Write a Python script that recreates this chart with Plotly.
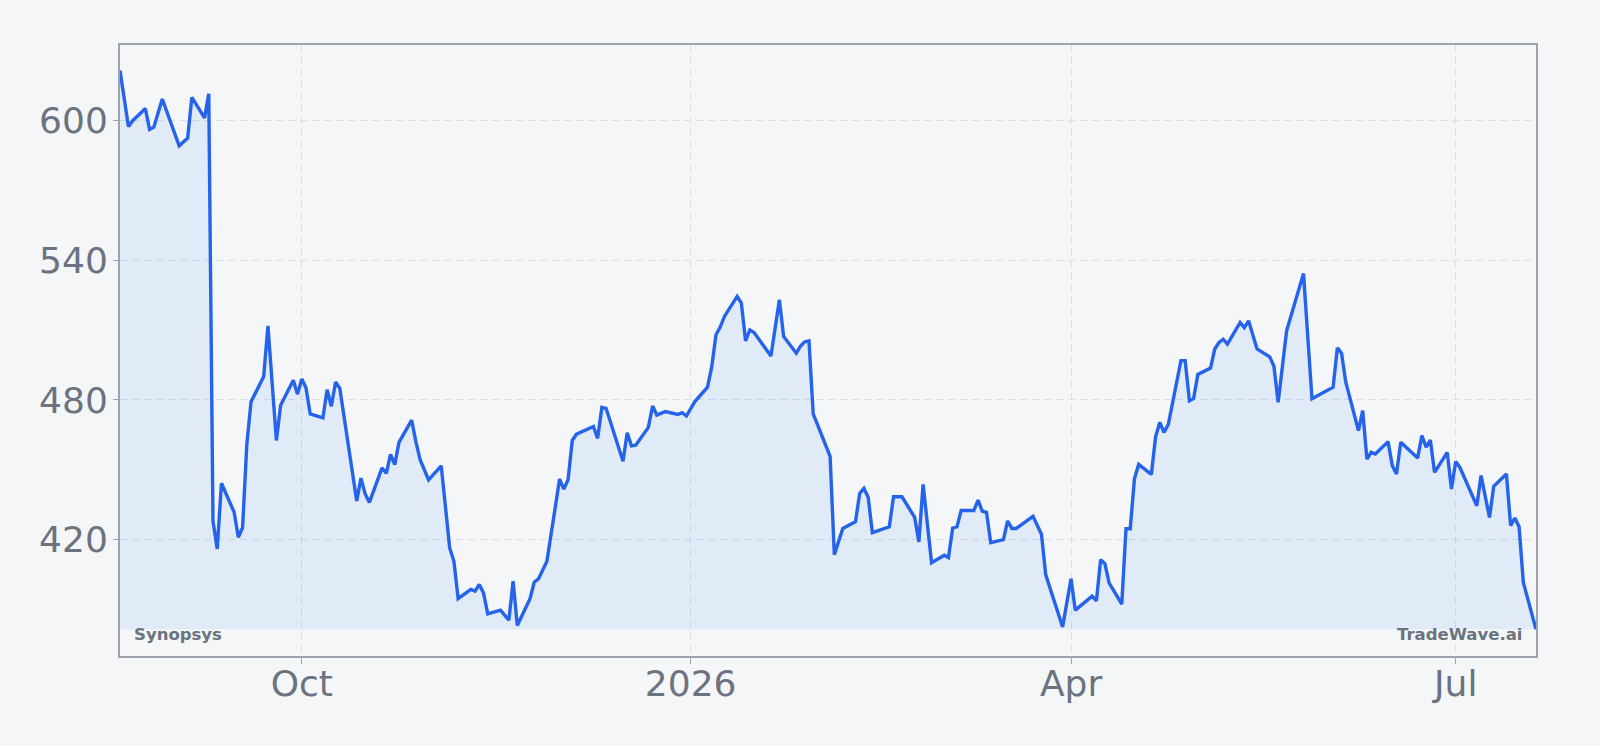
import plotly.graph_objects as go

dates = [
    "2025-08-19", "2025-08-21", "2025-08-22", "2025-08-25", "2025-08-26", "2025-08-27", "2025-08-29",
    "2025-09-02", "2025-09-04", "2025-09-05", "2025-09-08", "2025-09-09", "2025-09-10", "2025-09-11",
    "2025-09-12", "2025-09-15", "2025-09-16", "2025-09-17", "2025-09-18", "2025-09-19", "2025-09-22",
    "2025-09-23", "2025-09-25", "2025-09-26", "2025-09-29", "2025-09-30", "2025-10-01", "2025-10-02",
    "2025-10-03", "2025-10-06", "2025-10-07", "2025-10-08", "2025-10-09", "2025-10-10", "2025-10-14",
    "2025-10-15", "2025-10-16", "2025-10-17", "2025-10-20", "2025-10-21", "2025-10-22", "2025-10-23",
    "2025-10-24", "2025-10-27", "2025-10-28", "2025-10-29", "2025-10-31", "2025-11-03", "2025-11-05",
    "2025-11-06", "2025-11-07", "2025-11-10", "2025-11-11", "2025-11-12", "2025-11-13", "2025-11-14",
    "2025-11-17", "2025-11-19", "2025-11-20", "2025-11-21", "2025-11-24", "2025-11-25", "2025-11-26",
    "2025-11-28", "2025-12-01", "2025-12-02", "2025-12-03", "2025-12-04", "2025-12-05", "2025-12-09",
    "2025-12-10", "2025-12-11", "2025-12-12", "2025-12-16", "2025-12-17", "2025-12-18", "2025-12-19",
    "2025-12-22", "2025-12-23", "2025-12-24", "2025-12-26", "2025-12-29", "2025-12-30", "2025-12-31",
    "2026-01-02", "2026-01-05", "2026-01-06", "2026-01-07", "2026-01-08", "2026-01-09", "2026-01-12",
    "2026-01-13", "2026-01-14", "2026-01-15", "2026-01-16", "2026-01-20", "2026-01-22", "2026-01-23",
    "2026-01-26", "2026-01-27", "2026-01-28", "2026-01-29", "2026-01-30", "2026-02-03", "2026-02-04",
    "2026-02-06", "2026-02-09", "2026-02-10", "2026-02-11", "2026-02-12", "2026-02-13", "2026-02-17",
    "2026-02-18", "2026-02-20", "2026-02-23", "2026-02-24", "2026-02-25", "2026-02-27", "2026-03-02",
    "2026-03-03", "2026-03-04", "2026-03-05", "2026-03-06", "2026-03-09", "2026-03-10", "2026-03-11",
    "2026-03-12", "2026-03-13", "2026-03-16", "2026-03-17", "2026-03-18", "2026-03-19", "2026-03-23",
    "2026-03-25", "2026-03-26", "2026-03-30", "2026-04-01", "2026-04-02", "2026-04-06", "2026-04-07",
    "2026-04-08", "2026-04-09", "2026-04-10", "2026-04-13", "2026-04-14", "2026-04-15", "2026-04-16",
    "2026-04-17", "2026-04-20", "2026-04-21", "2026-04-22", "2026-04-23", "2026-04-24", "2026-04-27",
    "2026-04-28", "2026-04-29", "2026-04-30", "2026-05-01", "2026-05-04", "2026-05-05", "2026-05-06",
    "2026-05-07", "2026-05-08", "2026-05-11", "2026-05-12", "2026-05-13", "2026-05-15", "2026-05-18",
    "2026-05-19", "2026-05-20", "2026-05-22", "2026-05-26", "2026-05-28", "2026-06-02", "2026-06-03",
    "2026-06-04", "2026-06-05", "2026-06-08", "2026-06-09", "2026-06-10", "2026-06-11", "2026-06-12",
    "2026-06-15", "2026-06-16", "2026-06-17", "2026-06-18", "2026-06-22", "2026-06-23", "2026-06-24",
    "2026-06-25", "2026-06-26", "2026-06-29", "2026-06-30", "2026-07-01", "2026-07-02", "2026-07-06",
    "2026-07-07", "2026-07-09", "2026-07-10", "2026-07-13", "2026-07-14", "2026-07-15", "2026-07-16",
    "2026-07-17", "2026-07-20",
]

prices = [
    621.5, 597.5, 600.0, 605.2, 596.2, 597.2, 609.3,
    589.2, 592.5, 610.0, 601.2, 611.5, 428.0, 416.0,
    444.2, 431.8, 421.0, 425.2, 460.8, 479.2, 490.1,
    511.8, 462.6, 477.7, 488.5, 482.5, 489.0, 485.2,
    474.0, 472.3, 484.4, 477.3, 487.7, 485.0, 436.6,
    446.4, 439.6, 436.0, 450.8, 448.5, 456.6, 452.2,
    461.8, 471.3, 462.1, 454.3, 445.7, 451.7, 416.4,
    410.7, 394.6, 398.6, 397.9, 400.7, 397.1, 388.1,
    389.7, 385.4, 402.1, 383.1, 394.6, 401.7, 403.1,
    410.7, 446.0, 441.7, 445.7, 462.6, 465.3, 468.6,
    463.5, 476.8, 476.4, 453.7, 465.9, 460.3, 460.6,
    468.2, 477.4, 473.5, 475.0, 473.8, 474.5, 473.1,
    479.3, 485.5, 494.3, 508.0, 511.3, 515.9, 524.5,
    521.6, 505.4, 510.1, 509.0, 498.9, 523.0, 507.3,
    500.1, 503.2, 505.0, 505.4, 474.0, 455.8, 413.5,
    424.8, 427.7, 439.8, 442.0, 438.2, 423.0, 425.5,
    438.4, 438.4, 429.6, 419.0, 443.7, 410.1, 413.3,
    412.3, 425.0, 425.5, 432.5, 432.5, 437.0, 432.2,
    431.7, 418.7, 420.0, 428.0, 424.8, 424.8, 430.0,
    422.3, 405.0, 382.5, 403.2, 389.7, 395.7, 393.7,
    411.4, 409.7, 401.4, 392.3, 424.7, 424.7, 446.1,
    452.3, 448.0, 464.2, 470.4, 466.1, 469.4, 496.9,
    496.9, 479.7, 480.7, 491.0, 493.7, 501.9, 504.7,
    506.1, 504.0, 513.3, 511.1, 514.0, 501.9, 498.5,
    494.5, 479.0, 509.7, 534.3, 480.5, 485.5, 502.4,
    500.1, 487.6, 466.8, 475.4, 454.6, 457.5, 456.8,
    462.1, 451.8, 448.2, 461.8, 455.1, 464.7, 459.7,
    462.8, 448.9, 457.5, 441.7, 453.6, 451.0, 434.5,
    447.5, 429.5, 442.9, 448.2, 426.0, 429.3, 425.5,
    401.6, 381.5,
]

x_tick_vals = ["2025-10-01", "2026-01-01", "2026-04-01", "2026-07-01"]
x_tick_text = ["Oct", "2026", "Apr", "Jul"]
y_tick_vals = [420, 480, 540, 600]
company = "Synopsys"
brand = "TradeWave.ai"

n = min(len(dates), len(prices))
dates = dates[:n]
prices = prices[:n]
base = min(prices)

LINE = "#2563EB"
BG = "#F4F6F8"
GRID = "#DADFE6"
TEXT = "#6B7280"
AXIS = "#9CA3AF"
DASH = "7px,5px"

fig = go.Figure()
fig.add_trace(go.Scatter(
    x=dates, y=[base] * n, mode="lines",
    line=dict(width=0, color="rgba(0,0,0,0)"),
    hoverinfo="skip", showlegend=False,
))
fig.add_trace(go.Scatter(
    x=dates, y=prices, mode="lines",
    line=dict(color=LINE, width=3.4),
    fill="tonexty", fillcolor="rgba(59,130,246,0.10)",
    showlegend=False, name=company,
))

fig.update_layout(
    width=1600, height=746, autosize=False,
    paper_bgcolor=BG, plot_bgcolor=BG,
    margin=dict(l=120, r=64, t=45, b=90),
    font=dict(family="DejaVu Sans", color=TEXT),
    showlegend=False,
    annotations=[
        dict(text="<b>%s</b>" % company, xref="paper", yref="paper", x=0, y=0,
             xanchor="left", yanchor="bottom", xshift=12, yshift=10, showarrow=False,
             font=dict(size=16.5, color=TEXT, family="DejaVu Sans")),
        dict(text="<b>%s</b>" % brand, xref="paper", yref="paper", x=1, y=0,
             xanchor="right", yanchor="bottom", xshift=-12, yshift=10, showarrow=False,
             font=dict(size=16.5, color=TEXT, family="DejaVu Sans")),
    ],
)
fig.update_xaxes(
    type="date", range=[dates[0], dates[-1]],
    tickvals=x_tick_vals, ticktext=x_tick_text,
    tickfont=dict(size=36, color=TEXT),
    ticklabelstandoff=-11,
    showgrid=True, gridcolor=GRID, griddash=DASH, gridwidth=1,
    showline=True, linecolor=AXIS, linewidth=2, mirror=True,
    ticks="outside", ticklen=6, tickcolor=AXIS, zeroline=False,
)
fig.update_yaxes(
    range=[370, 632.5],
    tickvals=y_tick_vals,
    tickfont=dict(size=36, color=TEXT),
    ticklabelstandoff=-2,
    showgrid=True, gridcolor=GRID, griddash=DASH, gridwidth=1,
    showline=True, linecolor=AXIS, linewidth=2, mirror=True,
    ticks="outside", ticklen=5, tickcolor=AXIS, zeroline=False,
)

fig.write_html("out.html")
